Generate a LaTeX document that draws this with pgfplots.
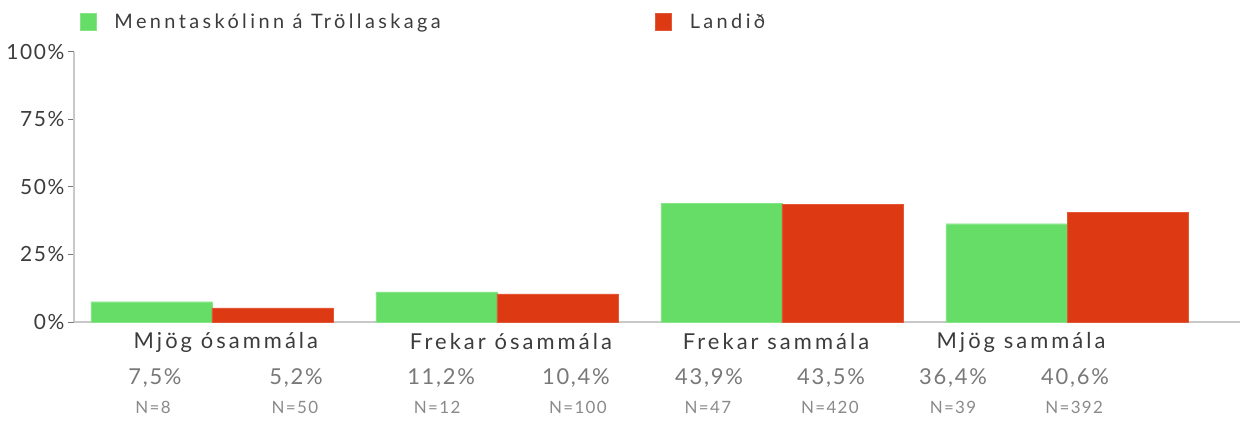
\documentclass[border=0pt]{standalone}
\usepackage{pgfplots}
\pgfplotsset{compat=1.18}
\usepackage{fontspec}
\setmainfont{Lato}[LetterSpace=8.0]
\newfontfamily\legfont{Lato}[LetterSpace=17.0]
\newfontfamily\catfont{Lato}[LetterSpace=14.0]
\definecolor{mgreen}{HTML}{66DD66}
\definecolor{mred}{HTML}{DD3A14}
\definecolor{axgray}{HTML}{C8C8C8}
\definecolor{txtdark}{HTML}{3C3C3C}
\definecolor{txtmid}{HTML}{787878}
\definecolor{txtlight}{HTML}{8A8A8A}
\pgfplotsset{ybar legend/.style={legend image code/.code={\fill[##1] (0bp,-8bp) rectangle (16bp,9bp);}}}
\begin{document}
\begin{tikzpicture}
\useasboundingbox (0,0) rectangle (1245bp,424bp);
\begin{axis}[
  at={(74bp,102bp)}, anchor=south west,
  scale only axis, width=1166bp, height=270bp,
  xmin=-0.484, xmax=3.607, ymin=0, ymax=100,
  ybar, bar width=0.425,
  clip=false,
  axis x line*=bottom, axis y line*=left,
  axis line style={draw=axgray, line width=2.5bp, -},
  xtick=\empty,
  ytick={0,25,50,75,100},
  yticklabels={0\%,25\%,50\%,75\%,100\%},
  /pgf/number format/assume math mode=true,
  y tick label style={font=\fontsize{21}{21}\selectfont, text=txtdark},
  major tick length=6bp, tick align=outside,
  tick style={draw=txtmid, line width=1bp},
  legend columns=2,
  legend style={at={(axis description cs:0.005,1.111)}, anchor=west, draw=none, fill=none,
    inner sep=0pt, font=\legfont\fontsize{20}{20}\selectfont, text=txtdark,
    /tikz/every odd column/.append style={column sep=16bp}},
]
\addplot[fill=mgreen, draw=mgreen!80!white, bar shift=-0.2125] coordinates {(0,7.5) (1,11.2) (2,43.9) (3,36.4)};
\addlegendentry{\makebox[539bp][l]{Menntaskólinn á Tröllaskaga}}
\addplot[fill=mred, draw=mred!85!white, bar shift=0.2125] coordinates {(0,5.2) (1,10.4) (2,43.5) (3,40.6)};
\addlegendentry{Landið}

\begin{scope}[every node/.style={font=\catfont\fontsize{22}{22}\selectfont, text=txtdark}]
\node at (axis cs:0.049,-7.4) {Mjög ósammála};
\node at (axis cs:1.049,-7.4) {Frekar ósammála};
\node at (axis cs:1.979,-7.4) {Frekar sammála};
\node at (axis cs:2.839,-7.4) {Mjög sammála};
\end{scope}
\begin{scope}[every node/.style={font=\fontsize{22}{22}\selectfont, text=txtmid}]
\node at (axis cs:-0.200,-20.7) {7,5\%};
\node at (axis cs:0.295,-20.7) {5,2\%};
\node at (axis cs:0.804,-20.7) {11,2\%};
\node at (axis cs:1.277,-20.7) {10,4\%};
\node at (axis cs:1.744,-20.7) {43,9\%};
\node at (axis cs:2.172,-20.7) {43,5\%};
\node at (axis cs:2.600,-20.7) {36,4\%};
\node at (axis cs:3.028,-20.7) {40,6\%};
\end{scope}
\begin{scope}[every node/.style={font=\fontsize{17}{17}\selectfont, text=txtlight}]
\node at (axis cs:-0.207,-31.5) {N=8};
\node at (axis cs:0.291,-31.5) {N=50};
\node at (axis cs:0.790,-31.5) {N=12};
\node at (axis cs:1.284,-31.5) {N=100};
\node at (axis cs:1.740,-31.5) {N=47};
\node at (axis cs:2.168,-31.5) {N=420};
\node at (axis cs:2.600,-31.5) {N=39};
\node at (axis cs:3.025,-31.5) {N=392};
\end{scope}
\end{axis}
\end{tikzpicture}
\end{document}
